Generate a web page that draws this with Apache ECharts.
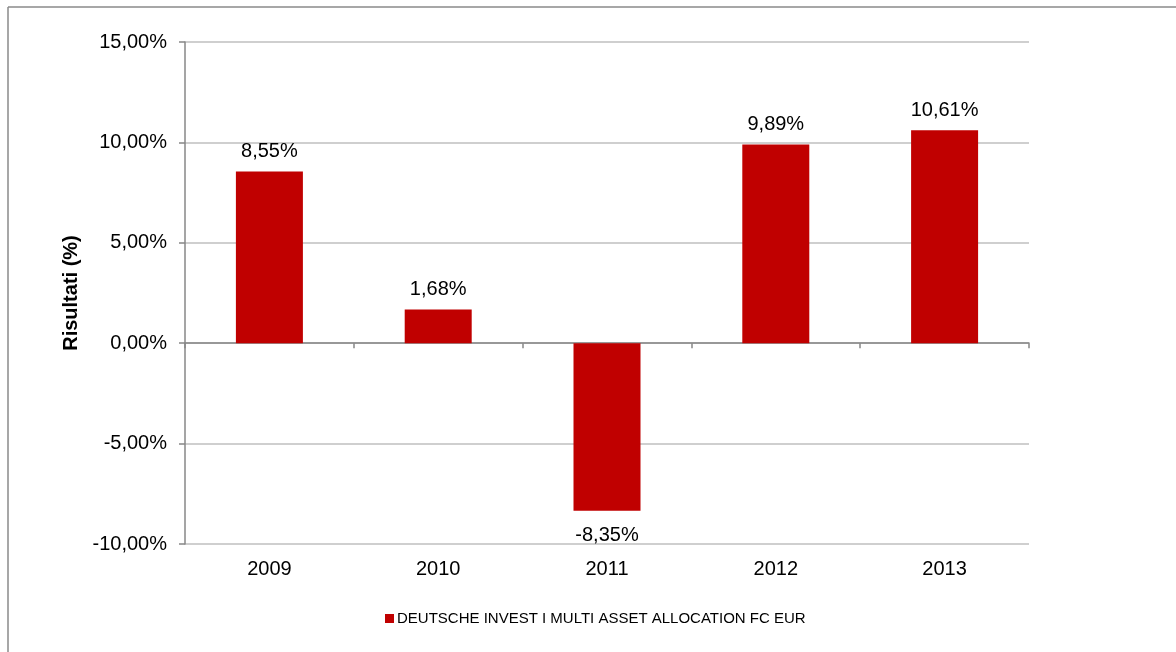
<!DOCTYPE html>
<html>
<head>
<meta charset="utf-8">
<script src="https://cdn.jsdelivr.net/npm/echarts@6/dist/echarts.min.js"></script>
<style>
html,body{margin:0;padding:0;background:#fff;}
#chart{width:1176px;height:652px;}
</style>
</head>
<body>
<div id="chart"></div>
<script>
var categories = ['2009', '2010', '2011', '2012', '2013'];
var seriesName = 'DEUTSCHE INVEST I MULTI ASSET ALLOCATION FC EUR';
var values = [8.55, 1.68, -8.35, 9.89, 10.61];
var yTicks = { min: -10, max: 15, interval: 5 };
var yTitle = 'Risultati (%)';

function fmt(v) {
  return v.toFixed(2).replace('.', ',') + '%';
}

var chart = echarts.init(document.getElementById('chart'), null, { renderer: 'canvas' });
var font = 'Liberation Sans, Arial, Helvetica, sans-serif';

chart.setOption({
  animation: false,
  backgroundColor: '#ffffff',
  textStyle: { fontFamily: font },
  graphic: [
    { type: 'line', shape: { x1: 8, y1: 7, x2: 1176, y2: 7 }, style: { stroke: '#8a8a8a', lineWidth: 1.5 } },
    { type: 'line', shape: { x1: 8, y1: 7, x2: 8, y2: 652 }, style: { stroke: '#8a8a8a', lineWidth: 1.5 } }
  ],
  grid: { left: 185, right: 147, top: 42, bottom: 108, containLabel: false },
  legend: {
    data: [seriesName],
    bottom: 21,
    left: 380,
    itemWidth: 9,
    itemHeight: 9,
    itemGap: 4,
    icon: 'rect',
    textStyle: { fontSize: 15, color: '#000', fontFamily: font, padding: [0, 0, 0, -2] }
  },
  xAxis: [
    {
      type: 'category',
      data: categories,
      axisLine: { onZero: true, lineStyle: { color: '#878787', width: 1.5 } },
      axisTick: { show: true, alignWithLabel: false, length: 5, lineStyle: { color: '#878787', width: 1.5 } },
      axisLabel: { show: false },
      splitLine: { show: false }
    },
    {
      type: 'category',
      data: categories,
      position: 'bottom',
      axisLine: { show: false, onZero: false },
      axisTick: { show: false },
      axisLabel: { show: true, fontSize: 20, color: '#000', margin: 15, fontFamily: font },
      splitLine: { show: false }
    }
  ],
  yAxis: {
    type: 'value',
    min: yTicks.min,
    max: yTicks.max,
    interval: yTicks.interval,
    name: yTitle,
    nameLocation: 'middle',
    nameGap: 100,
    nameRotate: 90,
    nameTextStyle: { fontSize: 20, fontWeight: 'bold', color: '#000', fontFamily: font },
    axisLine: { show: true, lineStyle: { color: '#878787', width: 1.5 } },
    axisTick: { show: true, length: 6, lineStyle: { color: '#878787', width: 1.5 } },
    axisLabel: { fontSize: 20, color: '#000', margin: 18, formatter: function (v) { return fmt(v); }, fontFamily: font },
    splitLine: { show: true, lineStyle: { color: '#bfbfbf', width: 1.5 } }
  },
  series: [{
    type: 'bar',
    name: seriesName,
    xAxisIndex: 0,
    barWidth: 67,
    itemStyle: { color: '#c00000' },
    label: {
      show: true,
      position: 'top',
      distance: 10,
      fontSize: 20,
      color: '#000',
      fontFamily: font,
      formatter: function (p) { return fmt(p.value); }
    },
    data: values.map(function (v) {
      return v < 0 ? { value: v, label: { position: 'bottom', distance: 15 } } : v;
    })
  }]
});
</script>
</body>
</html>
